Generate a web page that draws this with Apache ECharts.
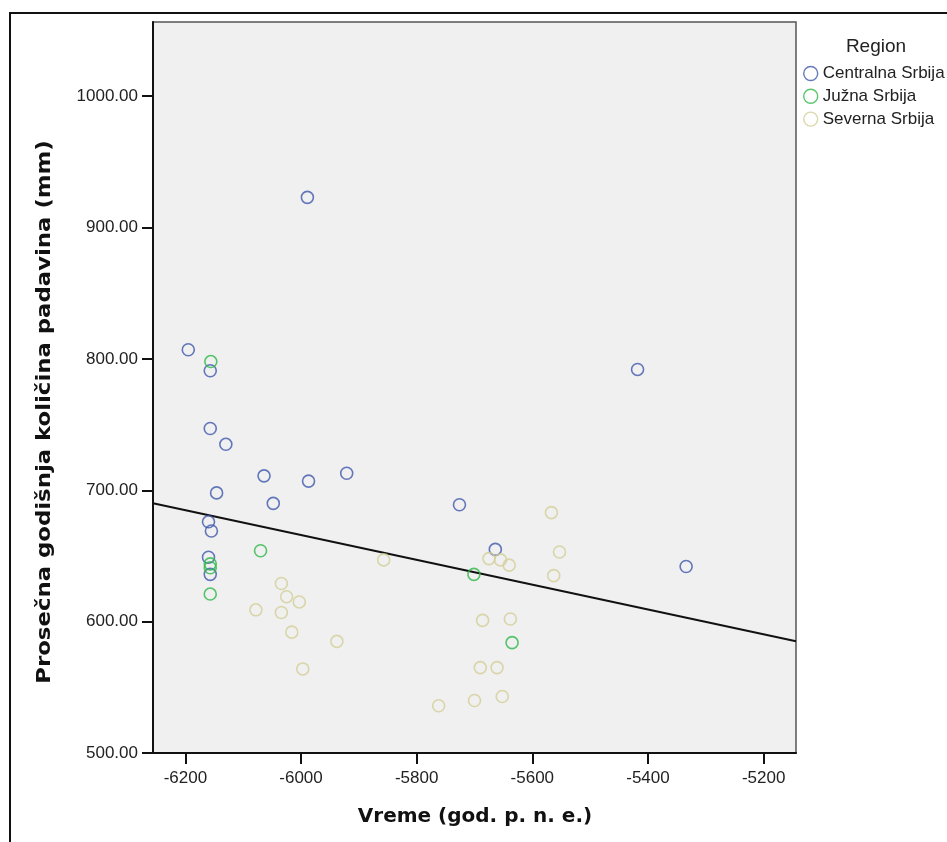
<!DOCTYPE html>
<html>
<head>
<meta charset="utf-8">
<script src="https://cdn.jsdelivr.net/npm/echarts@6/dist/echarts.min.js"></script>
<style>
  html, body { margin: 0; padding: 0; background: #fff; }
  #chart { width: 947px; height: 842px; }
</style>
</head>
<body>
<div id="chart"></div>
<script>
// Year (BCE as negative) and mean annual precipitation (mm) per site, by region
const centralX = [-6195, -6157, -6157, -6130, -6064, -5987, -5921, -6146, -6048, -6160, -6155, -6160, -6157, -5989, -5418, -5726, -5664, -5334];
const centralY = [807, 791, 747, 735, 711, 707, 713, 698, 690, 676, 669, 649, 636, 923, 792, 689, 655, 642];

const southX = [-6156, -6070, -6157, -6157, -6157, -5701, -5635];
const southY = [798, 654, 644, 641, 621, 636, 584];

const northX = [-6034, -6025, -6003, -6078, -6034, -6016, -5938, -5997, -5857, -5567, -5553, -5675, -5655, -5640, -5563, -5686, -5638, -5690, -5661, -5700, -5652, -5762];
const northY = [629, 619, 615, 609, 607, 592, 585, 564, 647, 683, 653, 648, 647, 643, 635, 601, 602, 565, 565, 540, 543, 536];

// Fit line endpoints at the x-axis limits
const fitX = [-6256, -5144];
const fitY = [690.2, 585.1];

// Axis ranges and tick labels
const xRange = [-6256, -5144];
const yRange = [500, 1056.5];
const xTicks = [-6200, -6000, -5800, -5600, -5400, -5200];
const yTicks = [500, 600, 700, 800, 900, 1000];

const regionNames = ['Centralna Srbija', 'Južna Srbija', 'Severna Srbija'];
const regionColors = ['#3E58AC', '#2EB848', '#D3CE97'];

const zip = (xs, ys) => xs.map((x, i) => [x, ys[i]]);
const groups = [zip(centralX, centralY), zip(southX, southY), zip(northX, northY)];

const chart = echarts.init(document.getElementById('chart'), null, { renderer: 'canvas' });

const tickFont = { fontFamily: 'Liberation Sans', fontSize: 17, color: '#222' };

const scatterSeries = groups.map((pts, i) => ({
  name: regionNames[i],
  type: 'scatter',
  data: pts,
  symbol: 'circle',
  symbolSize: 12,
  itemStyle: { color: 'rgba(0,0,0,0)', borderColor: regionColors[i], borderWidth: 1.6 },
  emphasis: { disabled: true },
  z: 3
}));

chart.setOption({
  animation: false,
  backgroundColor: '#fff',
  grid: {
    left: 153, top: 22, width: 643, height: 731,
    show: true, backgroundColor: '#f0f0f0', borderColor: '#555', borderWidth: 1.5
  },
  xAxis: {
    type: 'value',
    min: xRange[0], max: xRange[1],
    splitLine: { show: false },
    axisLine: { show: true, onZero: false, lineStyle: { color: '#111', width: 2 } },
    axisTick: { show: true, customValues: xTicks, length: 11, lineStyle: { color: '#111', width: 2 } },
    axisLabel: { customValues: xTicks, margin: 17, ...tickFont, formatter: v => String(v) }
  },
  yAxis: {
    type: 'value',
    min: yRange[0], max: yRange[1],
    splitLine: { show: false },
    axisLine: { show: true, onZero: false, lineStyle: { color: '#111', width: 2 } },
    axisTick: { show: true, customValues: yTicks, length: 11, lineStyle: { color: '#111', width: 2 } },
    axisLabel: { customValues: yTicks, margin: 15, ...tickFont, formatter: v => v.toFixed(2) }
  },
  legend: {
    orient: 'vertical',
    left: 798, top: 60,
    itemWidth: 14, itemHeight: 14, itemGap: 5.8,
    selectedMode: false,
    textStyle: { fontFamily: 'Liberation Sans', fontSize: 17, color: '#222', padding: [0, 0, 0, 0] },
    data: regionNames.map((n, i) => ({
      name: n, icon: 'circle',
      itemStyle: { color: 'rgba(0,0,0,0)', borderColor: regionColors[i], borderWidth: 1.4 }
    }))
  },
  graphic: [
    {
      type: 'rect', silent: true, z: 100,
      shape: { x: 10, y: 13, width: 1000, height: 900 },
      style: { fill: 'none', stroke: '#111', lineWidth: 2 }
    },
    {
      type: 'text', silent: true,
      x: 876, y: 47,
      style: { text: 'Region', fontFamily: 'Liberation Sans', fontSize: 19, fill: '#222', align: 'center', verticalAlign: 'middle' }
    },
    {
      type: 'text', silent: true,
      x: 475, y: 817,
      style: { text: 'Vreme (god. p. n. e.)', fontFamily: 'DejaVu Sans', fontWeight: 'bold', fontSize: 20, fill: '#111', align: 'center', verticalAlign: 'middle' }
    },
    {
      type: 'text', silent: true,
      x: 45, y: 412, rotation: Math.PI / 2, scaleX: 1.2,
      style: { text: 'Prosečna godišnja količina padavina (mm)', fontFamily: 'DejaVu Sans', fontWeight: 'bold', fontSize: 19, fill: '#111', align: 'center', verticalAlign: 'middle' }
    }
  ],
  series: [
    ...scatterSeries,
    {
      name: 'fit',
      type: 'line',
      data: zip(fitX, fitY),
      symbol: 'none',
      silent: true,
      lineStyle: { color: '#111', width: 2 },
      z: 2
    }
  ]
});
</script>
</body>
</html>
